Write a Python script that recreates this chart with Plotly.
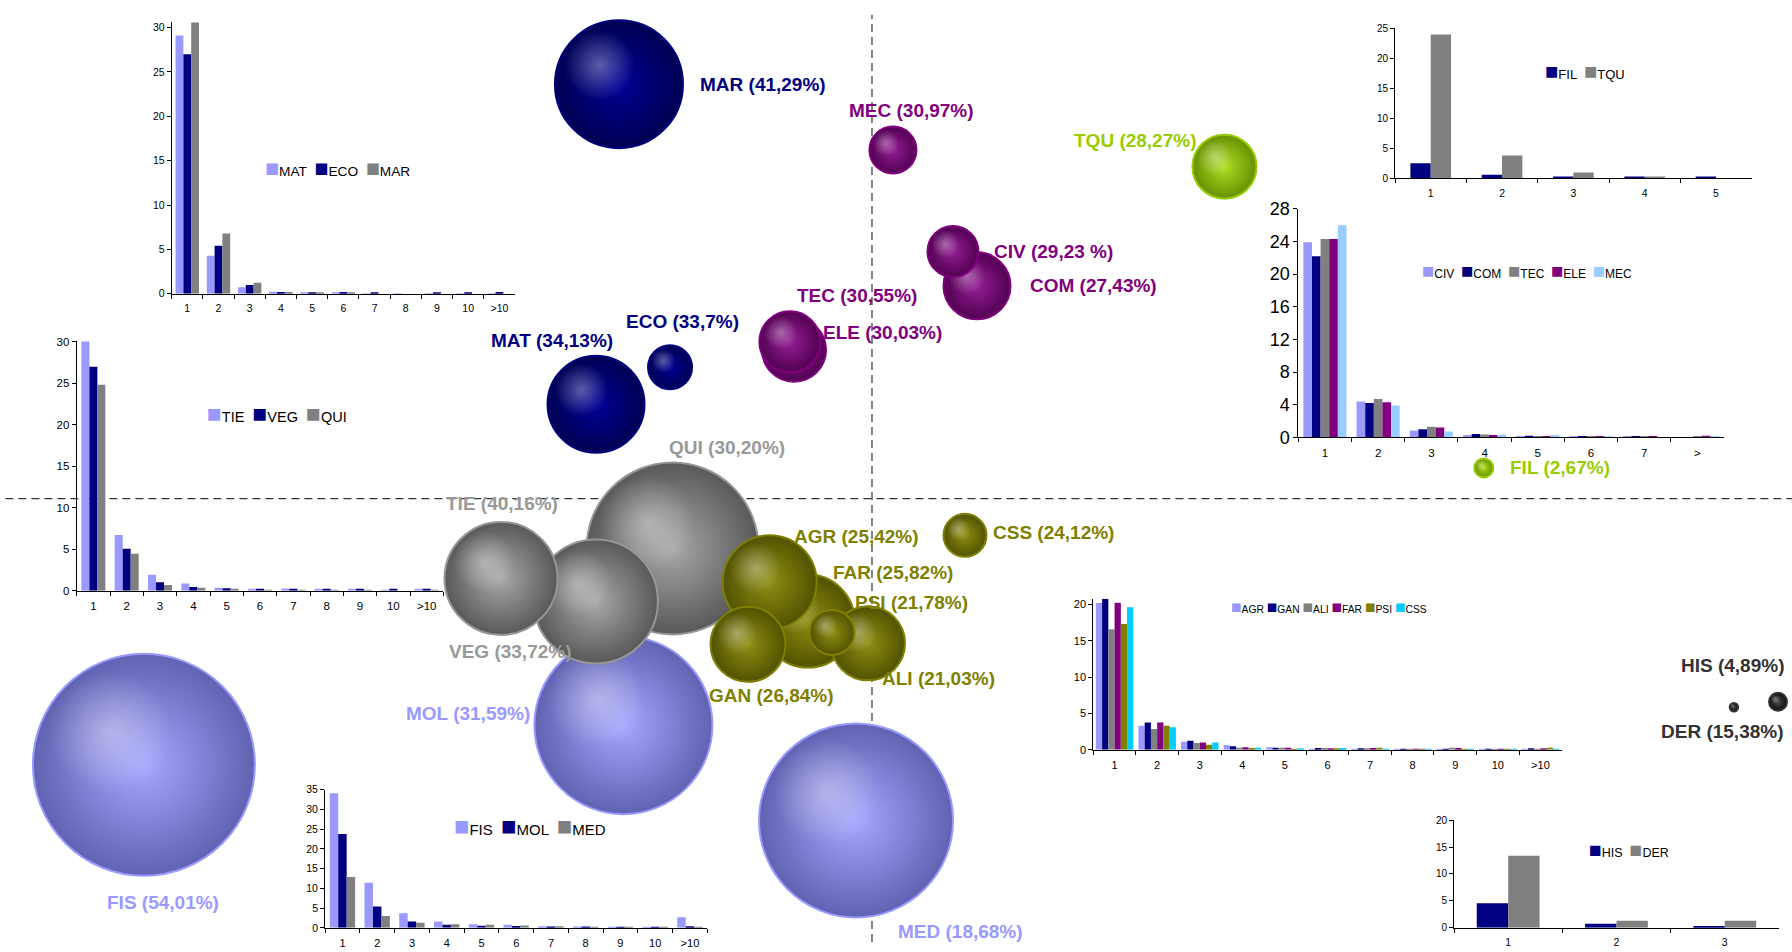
import plotly.graph_objects as go

# ---------------- bubble chart data (listed in drawing order) ----------------
bub_names = ["FIS", "MED", "MOL", "QUI", "MAR", "VEG", "TIE", "MAT", "FAR", "AGR", "GAN", "ALI",
             "COM", "ELE", "TEC", "TQU", "CIV", "MEC", "PSI", "ECO", "CSS", "FIL", "DER", "HIS"]
bub_pct = ["54,01%", "18,68%", "31,59%", "30,20%", "41,29%", "33,72%", "40,16%", "34,13%", "25,82%",
           "25,42%", "26,84%", "21,03%", "27,43%", "30,03%", "30,55%", "28,27%", "29,23 %", "30,97%",
           "21,78%", "33,7%", "24,12%", "2,67%", "15,38%", "4,89%"]
bub_group = ["lav", "lav", "lav", "gray", "navy", "gray", "gray", "navy", "olive", "olive", "olive", "olive",
             "purple", "purple", "purple", "green", "purple", "purple", "olive", "navy", "olive", "green",
             "dark", "dark"]
bub_x = [-40.63, -0.89, -13.87, -11.13, -14.12, -15.41, -20.70, -15.40, -3.57, -5.71, -6.92, -0.22,
         5.86, -4.35, -4.58, 19.67, 4.52, 1.17, -2.23, -11.27, 5.19, 34.14, 50.56, 48.10]
bub_y = [-28.01, -33.86, -23.84, -5.25, 43.59, -10.82, -8.40, 9.92, -12.89, -8.80, -15.34, -15.23,
         22.37, 15.65, 16.49, 34.91, 25.98, 36.66, -14.08, 13.81, -3.87, 3.22, -21.38, -21.95]
bub_size = [222, 194, 178, 172, 128, 124, 113, 97, 93, 94, 75, 74,
            67, 64, 61, 64, 51, 47, 45, 44, 43, 19, 18, 8.5]

# label placement (main-chart units) and anchor
label_pos = {
    "MAR": (-9.71, 43.59, "left"), "MEC": (2.18, 40.81, "center"), "TQU": (14.68, 37.66, "center"),
    "CIV": (6.70, 26.01, "left"), "COM": (8.68, 22.41, "left"), "TEC": (-0.81, 21.32, "center"),
    "ELE": (-2.87, 17.48, "left"), "ECO": (-10.6, 18.59, "center"), "MAT": (-17.87, 16.60, "center"),
    "QUI": (-8.11, 5.33, "center"), "TIE": (-20.65, -0.53, "center"), "VEG": (-20.20, -16.12, "center"),
    "MOL": (-22.57, -22.62, "center"), "FIS": (-39.54, -42.54, "center"), "MED": (4.96, -45.56, "center"),
    "AGR": (-4.49, -4.02, "left"), "FAR": (-2.30, -7.83, "left"), "PSI": (-1.06, -10.92, "left"),
    "ALI": (0.47, -18.91, "left"), "GAN": (-5.58, -20.69, "center"), "CSS": (6.64, -3.57, "left"),
    "FIL": (35.47, 3.31, "left"), "HIS": (50.98, -17.59, "right"), "DER": (50.98, -24.53, "right"),
}

# ---------------- inset bar chart data ----------------
cats11 = ["1", "2", "3", "4", "5", "6", "7", "8", "9", "10", ">10"]
cats5 = ["1", "2", "3", "4", "5"]
cats8 = ["1", "2", "3", "4", "5", "6", "7", ">"]
cats3 = ["1", "2", "3"]

MAT = [29.1, 4.3, 0.75, 0.22, 0.1, 0.1, 0.05, 0.05, 0.05, 0.05, 0.05]
ECO = [27.0, 5.4, 1.0, 0.2, 0.15, 0.2, 0.15, 0.0, 0.15, 0.15, 0.2]
MAR = [30.6, 6.8, 1.25, 0.2, 0.1, 0.1, 0.0, 0.0, 0.0, 0.0, 0.0]

TIE = [30.0, 6.7, 1.9, 0.85, 0.35, 0.2, 0.25, 0.2, 0.15, 0.1, 0.2]
VEG = [26.95, 5.05, 1.0, 0.45, 0.3, 0.2, 0.2, 0.15, 0.15, 0.15, 0.15]
QUI = [24.8, 4.45, 0.68, 0.35, 0.2, 0.1, 0.1, 0.1, 0.1, 0.0, 0.1]

FIS = [34.1, 11.4, 3.7, 1.6, 0.9, 0.75, 0.4, 0.35, 0.3, 0.3, 2.7]
MOL = [23.8, 5.4, 1.6, 0.8, 0.55, 0.45, 0.35, 0.35, 0.3, 0.3, 0.4]
MED = [12.9, 3.0, 1.3, 0.9, 0.8, 0.6, 0.4, 0.3, 0.3, 0.25, 0.3]

FIL = [2.5, 0.6, 0.15, 0.15, 0.15]
TQU = [24.0, 3.8, 0.95, 0.15, 0.0]

CIV = [23.9, 4.4, 0.85, 0.3, 0.15, 0.15, 0.15, 0.0]
COM = [22.2, 4.2, 1.0, 0.4, 0.2, 0.15, 0.15, 0.0]
TEC = [24.3, 4.7, 1.3, 0.35, 0.15, 0.15, 0.15, 0.15]
ELE = [24.3, 4.3, 1.2, 0.3, 0.15, 0.15, 0.15, 0.2]
MEC = [26.0, 3.9, 0.7, 0.35, 0.3, 0.1, 0.0, 0.15]

AGR = [20.2, 3.3, 1.1, 0.65, 0.35, 0.15, 0.15, 0.1, 0.15, 0.1, 0.15]
GAN = [20.8, 3.75, 1.25, 0.5, 0.3, 0.25, 0.2, 0.15, 0.15, 0.15, 0.2]
ALI = [16.6, 2.85, 0.95, 0.3, 0.3, 0.25, 0.2, 0.1, 0.3, 0.1, 0.15]
FAR = [20.25, 3.75, 1.0, 0.35, 0.3, 0.2, 0.25, 0.15, 0.25, 0.15, 0.2]
PSI = [17.3, 3.3, 0.7, 0.25, 0.15, 0.2, 0.3, 0.1, 0.15, 0.15, 0.3]
CSS = [19.6, 3.1, 1.0, 0.3, 0.2, 0.25, 0.1, 0.1, 0.1, 0.05, 0.15]

HIS = [4.55, 0.75, 0.35]
DER = [13.4, 1.3, 1.3]

# ---------------- styles ----------------
FONT = "Liberation Sans, Arial, sans-serif"
LAV, NAVY, GRAY, PURP, LBLUE, OLIVE, CYAN = "#9999FF", "#000080", "#808080", "#800080", "#99CCFF", "#808000", "#00CCFF"

STY = {  # edge colour, centre colour, outline, label colour
    "navy": ("#000052", "#000096", "#000080", "#000080"),
    "purple": ("#520052", "#941E94", "#800080", "#800080"),
    "green": ("#679000", "#B0DE26", "#99CC00", "#99CC00"),
    "gray": ("#595959", "#A8A8A8", "#969696", "#999999"),
    "lav": ("#6262B2", "#A6A6FF", "#9999FF", "#9999FF"),
    "olive": ("#525200", "#8E8E14", "#808000", "#808000"),
    "dark": ("#0E0E0E", "#4A4A4A", "#333333", "#333333"),
}

W, H = 1792, 952
XR = [-48.66, 51.34]
YR = [-46.65, 51.39]
XU = (XR[1] - XR[0]) / W
YU = (YR[1] - YR[0]) / H

fig = go.Figure()

for i, n in enumerate(bub_names):
    edge, center, line, _ = STY[bub_group[i]]
    fig.add_trace(go.Scatter(
        x=[bub_x[i]], y=[bub_y[i]], mode="markers", xaxis="x", yaxis="y",
        marker=dict(size=bub_size[i], color=edge,
                    gradient=dict(type="radial", color=center),
                    line=dict(color=line, width=2)),
        hoverinfo="skip", showlegend=False))
    r = bub_size[i] / 2
    fig.add_trace(go.Scatter(
        x=[bub_x[i] - 0.3 * r * XU], y=[bub_y[i] + 0.3 * r * YU], mode="markers",
        xaxis="x", yaxis="y",
        marker=dict(size=bub_size[i] * 0.55, color="rgba(255,255,255,0)",
                    gradient=dict(type="radial", color="rgba(255,255,255,0.36)"),
                    line=dict(width=0)),
        hoverinfo="skip", showlegend=False))

annotations = []
for i, n in enumerate(bub_names):
    lx, ly, anc = label_pos[n]
    annotations.append(dict(
        x=lx, y=ly, xref="x", yref="y", xanchor=anc, yanchor="middle", showarrow=False,
        text=f"{n} ({bub_pct[i]})",
        font=dict(family=FONT, size=19, color=STY[bub_group[i]][3], weight="bold")))

# ---------------- insets ----------------
insets = [
    dict(cats=cats11, names=["MAT", "ECO", "MAR"], vals=[MAT, ECO, MAR], colors=[LAV, NAVY, GRAY],
         xd=[0.0958, 0.2874], yd=[0.6955, 0.9869], yr=[0, 30.6], dt=5, gf=0.75,
         fy=10.5, fx=10.5, leg=(0.1468, 0.8310), lf=13.7, gap="  "),
    dict(cats=cats11, names=["TIE", "VEG", "QUI"], vals=[TIE, VEG, QUI], colors=[LAV, NAVY, GRAY],
         xd=[0.0428, 0.2474], yd=[0.3770, 0.6452], yr=[0, 30.1], dt=5, gf=0.72,
         fy=11.5, fx=11.5, leg=(0.1144, 0.5672), lf=14.5, gap="  "),
    dict(cats=cats11, names=["FIS", "MOL", "MED"], vals=[FIS, MOL, MED], colors=[LAV, NAVY, GRAY],
         xd=[0.1814, 0.3947], yd=[0.0152, 0.1633], yr=[0, 35], dt=5, gf=0.73,
         fy=10.5, fx=11, leg=(0.2522, 0.1240), lf=15, gap="  "),
    dict(cats=cats5, names=["FIL", "TQU"], vals=[FIL, TQU], colors=[NAVY, GRAY],
         xd=[0.7785, 0.9775], yd=[0.8194, 0.9802], yr=[0, 25], dt=5, gf=0.57,
         fy=10, fx=10.5, leg=(0.861, 0.9345), lf=13, gap="  "),
    dict(cats=cats8, names=["CIV", "COM", "TEC", "ELE", "MEC"], vals=[CIV, COM, TEC, ELE, MEC],
         colors=[LAV, NAVY, GRAY, PURP, LBLUE],
         xd=[0.7245, 0.9621], yd=[0.5415, 0.7866], yr=[0, 28], dt=4, gf=0.81,
         fy=18, fx=11.5, leg=(0.7924, 0.7196), lf=12, gap="  "),
    dict(cats=cats11, names=["AGR", "GAN", "ALI", "FAR", "PSI", "CSS"], vals=[AGR, GAN, ALI, FAR, PSI, CSS],
         colors=[LAV, NAVY, GRAY, PURP, OLIVE, CYAN],
         xd=[0.6101, 0.8715], yd=[0.2062, 0.3684], yr=[0, 20.8], dt=5, gf=0.88,
         fy=11, fx=11, leg=(0.686, 0.3590), lf=10.3, gap=" "),
    dict(cats=cats3, names=["HIS", "DER"], vals=[HIS, DER], colors=[NAVY, GRAY],
         xd=[0.8114, 0.9927], yd=[0.0152, 0.1308], yr=[0, 20], dt=5, gf=0.58,
         fy=10, fx=10.5, leg=(0.8856, 0.0990), lf=12.5, gap="  "),
]

layout_axes = {}
for k, ins in enumerate(insets):
    ax = k + 2
    ns = len(ins["names"])
    bw = ins["gf"] / ns
    for j, (nm, v, c) in enumerate(zip(ins["names"], ins["vals"], ins["colors"])):
        fig.add_trace(go.Bar(
            x=ins["cats"], y=v, name=nm, marker=dict(color=c, line=dict(width=0)),
            width=bw, offset=-ins["gf"] / 2 + j * bw,
            xaxis=f"x{ax}", yaxis=f"y{ax}", showlegend=False, hoverinfo="skip"))
    layout_axes[f"xaxis{ax}"] = dict(
        domain=ins["xd"], anchor=f"y{ax}", type="category", tickson="boundaries",
        ticks="outside", ticklen=4, tickcolor="black", showline=True, linecolor="black",
        linewidth=1, showgrid=False, zeroline=False, fixedrange=True,
        ticklabelstandoff=5, tickfont=dict(family=FONT, size=ins["fx"], color="black"))
    layout_axes[f"yaxis{ax}"] = dict(
        domain=ins["yd"], anchor=f"x{ax}", range=ins["yr"], dtick=ins["dt"], tick0=0,
        ticks="outside", ticklen=4, tickcolor="black", showline=True, linecolor="black",
        linewidth=1, showgrid=False, zeroline=False, fixedrange=True,
        tickfont=dict(family=FONT, size=ins["fy"], color="black"))
    sq = round(ins["lf"] * 1.7, 1)
    leg_text = ins["gap"].join(f"<span style='font-size:{sq}px;color:{c}'>■</span>{nm}"
                               for nm, c in zip(ins["names"], ins["colors"]))
    annotations.append(dict(
        x=ins["leg"][0], y=ins["leg"][1], xref="paper", yref="paper", xanchor="left",
        yanchor="middle", showarrow=False, text=leg_text,
        font=dict(family=FONT, size=ins["lf"], color="black")))

shapes = [
    dict(type="line", xref="x", yref="paper", x0=0, x1=0, y0=0, y1=0.995, layer="below",
         line=dict(color="#333333", width=1.2, dash="8px,5px")),
    dict(type="line", xref="paper", yref="y", x0=0.003, x1=1, y0=0, y1=0, layer="below",
         line=dict(color="#333333", width=1.2, dash="8px,5px")),
]

fig.update_layout(
    width=W, height=H, margin=dict(l=0, r=0, t=0, b=0),
    paper_bgcolor="white", plot_bgcolor="rgba(0,0,0,0)",
    showlegend=False, hovermode=False,
    xaxis=dict(domain=[0, 1], range=XR, visible=False, fixedrange=True),
    yaxis=dict(domain=[0, 1], range=YR, visible=False, fixedrange=True),
    annotations=annotations, shapes=shapes,
    font=dict(family=FONT),
    **layout_axes,
)

fig.write_html("out.html", config={"displayModeBar": False},
               post_script="document.body.style.margin='0px';document.body.style.overflow='hidden';")
